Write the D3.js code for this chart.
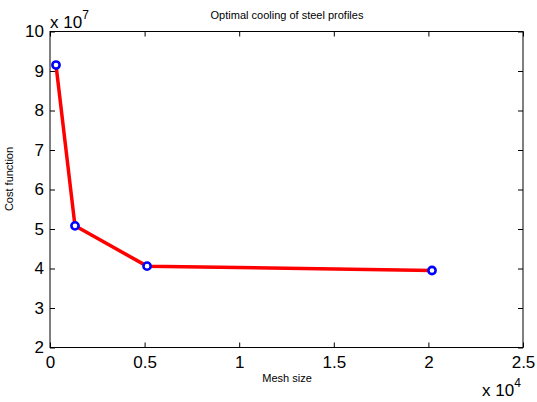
<!DOCTYPE html>
<html lang="en">
<head>
<meta charset="UTF-8">
<title>Optimal cooling of steel profiles</title>
<style>
  body { margin: 0; background: #fff; }
  svg { display: block; font-family: "Liberation Sans", Arial, sans-serif; }
</style>
</head>
<body>
<svg width="537" height="402"></svg>
<script src="https://cdn.jsdelivr.net/npm/d3@7"></script>
<script>
var meshSize = [317, 1321, 5130, 20190];
var costValue = [9.15e7, 5.08e7, 4.06e7, 3.95e7];
var xTicks = [0, 5000, 10000, 15000, 20000, 25000];
var yTicks = [2e7, 3e7, 4e7, 5e7, 6e7, 7e7, 8e7, 9e7, 10e7];

var svg = d3.select("svg");
var padL = 50, padR = 523, padT = 31.5, padB = 347.5;

var x = d3.scaleLinear().domain([0, 25000]).range([padL, padR]);
var y = d3.scaleLinear().domain([2e7, 10e7]).range([padB, padT]);

// box
svg.append("rect")
  .attr("x", padL).attr("y", padT)
  .attr("width", padR - padL).attr("height", padB - padT)
  .attr("fill", "#fff").attr("stroke", "#000").attr("stroke-width", 1);

function style(g) {
  g.select(".domain").remove();
  g.selectAll("line").attr("stroke", "#000");
}

// bottom axis: ticks point inward
svg.append("g")
  .attr("transform", "translate(0," + padB + ")")
  .call(d3.axisBottom(x).tickValues(xTicks).tickSize(-5).tickPadding(8)
    .tickFormat(function (d) { return String(d / 1e4); }))
  .call(style)
  .selectAll("text").attr("font-size", 17).attr("fill", "#000");

svg.append("g")
  .attr("transform", "translate(0," + padT + ")")
  .call(d3.axisTop(x).tickValues(xTicks).tickSize(-5).tickFormat(""))
  .call(style);

svg.append("g")
  .attr("transform", "translate(" + padL + ",0)")
  .call(d3.axisLeft(y).tickValues(yTicks).tickSize(-5).tickPadding(6)
    .tickFormat(function (d) { return String(Math.round(d / 1e7)); }))
  .call(style)
  .selectAll("text").attr("font-size", 17).attr("fill", "#000");

svg.append("g")
  .attr("transform", "translate(" + padR + ",0)")
  .call(d3.axisRight(y).tickValues(yTicks).tickSize(-5).tickFormat(""))
  .call(style);

// exponent labels
var e7 = svg.append("text").attr("x", 50).attr("y", 28).attr("font-size", 17);
e7.append("tspan").text("x 10");
e7.append("tspan").attr("font-size", 12).attr("dy", -9).text("7");

var e4 = svg.append("text").attr("x", 482).attr("y", 396).attr("font-size", 17);
e4.append("tspan").text("x 10");
e4.append("tspan").attr("font-size", 12).attr("dy", -9).text("4");

// titles
svg.append("text").attr("x", 287).attr("y", 19).attr("text-anchor", "middle")
  .attr("font-size", 11).text("Optimal cooling of steel profiles");
svg.append("text").attr("x", 287).attr("y", 382).attr("text-anchor", "middle")
  .attr("font-size", 11).text("Mesh size");
svg.append("text").attr("transform", "translate(13,179) rotate(-90)")
  .attr("text-anchor", "middle").attr("font-size", 11).text("Cost function");

// series
var pts = meshSize.map(function (m, i) { return [m, costValue[i]]; });
svg.append("path").datum(pts)
  .attr("fill", "none").attr("stroke", "#ff0000").attr("stroke-width", 3.5)
  .attr("stroke-linejoin", "round")
  .attr("d", d3.line().x(function (d) { return x(d[0]); }).y(function (d) { return y(d[1]); }));

svg.selectAll("circle.pt").data(pts).enter().append("circle")
  .attr("class", "pt")
  .attr("cx", function (d) { return x(d[0]); })
  .attr("cy", function (d) { return y(d[1]); })
  .attr("r", 3.6)
  .attr("fill", "#fff").attr("stroke", "#0000ff").attr("stroke-width", 2.6);
</script>
</body>
</html>
